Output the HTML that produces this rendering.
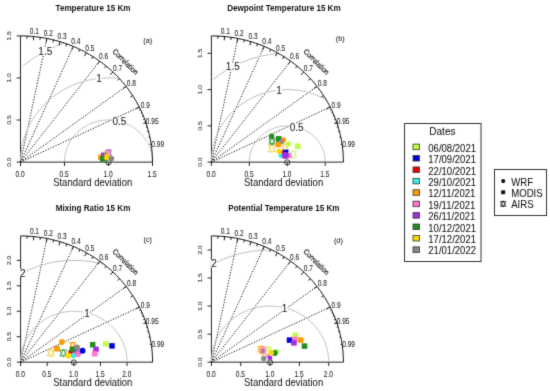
<!DOCTYPE html><html><head><meta charset="utf-8"><style>html,body{margin:0;padding:0;background:#fff;}svg{display:block}</style></head><body>
<svg width="550" height="391" viewBox="0 0 550 391" font-family='"Liberation Sans", sans-serif'>
<defs><filter id="bl" x="0" y="0" width="550" height="391" filterUnits="userSpaceOnUse" color-interpolation-filters="sRGB"><feConvolveMatrix order="3" kernelMatrix="0.0144 0.0912 0.0144 0.0912 0.5776 0.0912 0.0144 0.0912 0.0144" divisor="1" edgeMode="duplicate" preserveAlpha="true"/></filter></defs><g filter="url(#bl)">
<rect width="550" height="391" fill="#fff"/>
<text transform="translate(93.00,11.10) scale(1,1.17)" font-size="8.1" text-anchor="middle" font-weight="bold" fill="#111">Temperature 15 Km</text>
<line x1="20.50" y1="162.10" x2="46.90" y2="38.45" stroke="#111" stroke-width="1" stroke-dasharray="1.2 1.55"/>
<line x1="20.50" y1="162.10" x2="73.30" y2="46.44" stroke="#111" stroke-width="1" stroke-dasharray="1.2 1.55"/>
<line x1="20.50" y1="162.10" x2="99.70" y2="61.14" stroke="#111" stroke-width="1" stroke-dasharray="1.2 1.55"/>
<line x1="20.50" y1="162.10" x2="126.10" y2="86.38" stroke="#111" stroke-width="1" stroke-dasharray="1.2 1.55"/>
<line x1="20.50" y1="162.10" x2="139.30" y2="107.09" stroke="#111" stroke-width="1" stroke-dasharray="1.2 1.55"/>
<path d="M20.50,35.90 L20.50,162.10 L152.50,162.10" fill="none" stroke="#222" stroke-width="1"/>
<line x1="20.50" y1="162.10" x2="20.50" y2="166.00" stroke="#222" stroke-width="1"/>
<line x1="20.50" y1="162.10" x2="16.60" y2="162.10" stroke="#222" stroke-width="1"/>
<text transform="translate(20.20,177.00) scale(1,1.3)" font-size="6.6" text-anchor="middle" fill="#1a1a1a" stroke="#1a1a1a" stroke-width="0.05">0.0</text>
<text transform="translate(11.20,162.10) rotate(-90) scale(1,0.9)" font-size="6.6" text-anchor="middle" fill="#1a1a1a" stroke="#1a1a1a" stroke-width="0.05">0.0</text>
<line x1="64.50" y1="162.10" x2="64.50" y2="166.00" stroke="#222" stroke-width="1"/>
<line x1="20.50" y1="120.03" x2="16.60" y2="120.03" stroke="#222" stroke-width="1"/>
<text transform="translate(64.20,177.00) scale(1,1.3)" font-size="6.6" text-anchor="middle" fill="#1a1a1a" stroke="#1a1a1a" stroke-width="0.05">0.5</text>
<text transform="translate(11.20,120.03) rotate(-90) scale(1,0.9)" font-size="6.6" text-anchor="middle" fill="#1a1a1a" stroke="#1a1a1a" stroke-width="0.05">0.5</text>
<line x1="108.50" y1="162.10" x2="108.50" y2="166.00" stroke="#222" stroke-width="1"/>
<line x1="20.50" y1="77.97" x2="16.60" y2="77.97" stroke="#222" stroke-width="1"/>
<text transform="translate(108.20,177.00) scale(1,1.3)" font-size="6.6" text-anchor="middle" fill="#1a1a1a" stroke="#1a1a1a" stroke-width="0.05">1.0</text>
<text transform="translate(11.20,77.97) rotate(-90) scale(1,0.9)" font-size="6.6" text-anchor="middle" fill="#1a1a1a" stroke="#1a1a1a" stroke-width="0.05">1.0</text>
<line x1="152.50" y1="162.10" x2="152.50" y2="166.00" stroke="#222" stroke-width="1"/>
<line x1="20.50" y1="35.90" x2="16.60" y2="35.90" stroke="#222" stroke-width="1"/>
<text transform="translate(152.20,177.00) scale(1,1.3)" font-size="6.6" text-anchor="middle" fill="#1a1a1a" stroke="#1a1a1a" stroke-width="0.05">1.5</text>
<text transform="translate(11.20,35.90) rotate(-90) scale(1,0.9)" font-size="6.6" text-anchor="middle" fill="#1a1a1a" stroke="#1a1a1a" stroke-width="0.05">1.5</text>
<path d="M152.50,162.10 L152.48,160.84 L152.42,159.58 L152.32,158.32 L152.18,157.06 L152.01,155.81 L151.79,154.57 L151.53,153.33 L151.24,152.10 L150.91,150.88 L150.53,149.67 L150.13,148.47 L149.68,147.28 L149.20,146.11 L148.68,144.95 L148.12,143.80 L147.53,142.67 L146.90,141.56 L146.24,140.47 L145.54,139.40 L144.81,138.35 L144.05,137.32 L143.26,136.31 L142.43,135.32 L141.58,134.36 L140.69,133.43 L139.78,132.52 L138.84,131.63 L137.87,130.78 L136.87,129.95 L135.85,129.15 L134.80,128.38 L133.73,127.64 L132.64,126.93 L131.53,126.25 L130.39,125.61 L129.24,125.00 L128.07,124.42 L126.87,123.88 L125.67,123.37 L124.44,122.89 L123.21,122.45 L121.96,122.05 L120.69,121.68 L119.42,121.35 L118.14,121.05 L116.84,120.80 L115.54,120.58 L114.24,120.39 L112.93,120.25 L111.61,120.14 L110.29,120.07 L108.98,120.04 L107.66,120.04 L106.34,120.08 L105.02,120.17 L103.70,120.28 L102.39,120.44 L101.09,120.63 L99.79,120.87 L98.50,121.13 L97.22,121.44 L95.95,121.78 L94.69,122.16 L93.45,122.57 L92.21,123.02 L90.99,123.51 L89.79,124.03 L88.60,124.58 L87.44,125.17 L86.29,125.79 L85.16,126.44 L84.05,127.13 L82.96,127.84 L81.90,128.59 L80.86,129.37 L79.85,130.18 L78.86,131.01 L77.90,131.88 L76.96,132.77 L76.05,133.69 L75.18,134.63 L74.33,135.60 L73.51,136.59 L72.73,137.60 L71.98,138.64 L71.26,139.70 L70.57,140.78 L69.92,141.87 L69.30,142.99 L68.72,144.12 L68.17,145.27 L67.66,146.43 L67.19,147.61 L66.76,148.80 L66.36,150.01 L66.00,151.22 L65.67,152.44 L65.39,153.68 L65.15,154.92 L64.94,156.16 L64.77,157.42 L64.65,158.67 L64.56,159.93 L64.51,161.19" fill="none" stroke="#BEBEBE" stroke-width="1"/>
<path d="M117.36,78.39 L114.72,78.18 L112.09,78.04 L109.45,77.97 L106.81,77.98 L104.17,78.07 L101.54,78.23 L98.91,78.47 L96.29,78.78 L93.68,79.17 L91.09,79.63 L88.51,80.17 L85.94,80.78 L83.40,81.46 L80.88,82.22 L78.39,83.04 L75.92,83.94 L73.49,84.91 L71.08,85.95 L68.71,87.06 L66.37,88.23 L64.07,89.48 L61.82,90.78 L59.60,92.15 L57.43,93.59 L55.30,95.08 L53.22,96.64 L51.19,98.25 L49.21,99.93 L47.29,101.65 L45.42,103.44 L43.61,105.27 L41.86,107.16 L40.16,109.09 L38.53,111.08 L36.96,113.11 L35.46,115.18 L34.02,117.30 L32.64,119.45 L31.34,121.65 L30.11,123.88 L28.94,126.14 L27.85,128.44 L26.83,130.77 L25.88,133.13 L25.01,135.51 L24.21,137.91 L23.49,140.34 L22.85,142.79 L22.28,145.25 L21.79,147.73 L21.38,150.23 L21.05,152.73 L20.79,155.24 L20.62,157.76 L20.52,160.28" fill="none" stroke="#BEBEBE" stroke-width="1"/>
<path d="M63.34,43.52 L59.64,44.87 L55.98,46.32 L52.37,47.88 L48.81,49.54 L45.31,51.30 L41.86,53.16 L38.47,55.12 L35.15,57.18 L31.89,59.33 L28.70,61.57 L25.58,63.91 L22.54,66.33" fill="none" stroke="#BEBEBE" stroke-width="1"/>
<rect x="112.12" y="117.45" width="14.60" height="7.8" fill="#fff"/>
<text transform="translate(119.42,125.05) scale(1,1.05)" font-size="10" text-anchor="middle" fill="#1a1a1a" stroke="#1a1a1a" stroke-width="0.05">0.5</text>
<rect x="95.81" y="74.57" width="6.20" height="7.8" fill="#fff"/>
<text transform="translate(98.91,82.17) scale(1,1.05)" font-size="10" text-anchor="middle" fill="#1a1a1a" stroke="#1a1a1a" stroke-width="0.05">1</text>
<rect x="38.01" y="47.40" width="14.60" height="7.8" fill="#fff"/>
<text transform="translate(45.31,55.00) scale(1,1.05)" font-size="10" text-anchor="middle" fill="#1a1a1a" stroke="#1a1a1a" stroke-width="0.05">1.5</text>
<path d="M152.50,162.10 L152.45,158.80 L152.32,155.50 L152.09,152.20 L151.78,148.91 L151.37,145.63 L150.87,142.36 L150.29,139.10 L149.62,135.86 L148.85,132.64 L148.00,129.44 L147.06,126.26 L146.04,123.10 L144.93,119.97 L143.73,116.87 L142.45,113.81 L141.09,110.77 L139.64,107.77 L138.11,104.81 L136.50,101.88 L134.82,99.00 L133.05,96.16 L131.20,93.37 L129.28,90.62 L127.29,87.92 L125.22,85.27 L123.08,82.68 L120.87,80.14 L118.60,77.66 L116.25,75.23 L113.84,72.86 L111.36,70.56 L108.83,68.32 L106.23,66.14 L103.57,64.02 L100.86,61.98 L98.09,60.00 L95.27,58.10 L92.39,56.26 L89.47,54.50 L86.50,52.81 L83.48,51.19 L80.43,49.65 L77.33,48.19 L74.19,46.81 L71.01,45.51 L67.80,44.28 L64.56,43.14 L61.29,42.08 L57.99,41.10 L54.66,40.20 L51.31,39.39 L47.94,38.66 L44.56,38.01 L41.15,37.45 L37.73,36.98 L34.30,36.59 L30.86,36.29 L27.41,36.07 L23.96,35.94 L20.50,35.90" fill="none" stroke="#111" stroke-width="1"/>
<line x1="33.70" y1="36.53" x2="33.30" y2="40.30" stroke="#111" stroke-width="1"/>
<line x1="46.90" y1="38.45" x2="46.11" y2="42.16" stroke="#111" stroke-width="1"/>
<line x1="60.10" y1="41.71" x2="58.91" y2="45.32" stroke="#111" stroke-width="1"/>
<line x1="73.30" y1="46.44" x2="71.72" y2="49.91" stroke="#111" stroke-width="1"/>
<line x1="86.50" y1="52.81" x2="84.52" y2="56.09" stroke="#111" stroke-width="1"/>
<line x1="99.70" y1="61.14" x2="97.32" y2="64.17" stroke="#111" stroke-width="1"/>
<line x1="112.90" y1="71.98" x2="110.13" y2="74.68" stroke="#111" stroke-width="1"/>
<line x1="126.10" y1="86.38" x2="122.93" y2="88.65" stroke="#111" stroke-width="1"/>
<line x1="139.30" y1="107.09" x2="135.74" y2="108.74" stroke="#111" stroke-width="1"/>
<line x1="27.10" y1="36.06" x2="26.97" y2="38.58" stroke="#111" stroke-width="1"/>
<line x1="40.30" y1="37.33" x2="39.90" y2="39.82" stroke="#111" stroke-width="1"/>
<line x1="53.50" y1="39.91" x2="52.84" y2="42.35" stroke="#111" stroke-width="1"/>
<line x1="66.70" y1="43.88" x2="65.78" y2="46.25" stroke="#111" stroke-width="1"/>
<line x1="79.90" y1="49.40" x2="78.71" y2="51.65" stroke="#111" stroke-width="1"/>
<line x1="93.10" y1="56.70" x2="91.65" y2="58.81" stroke="#111" stroke-width="1"/>
<line x1="106.30" y1="66.20" x2="104.58" y2="68.11" stroke="#111" stroke-width="1"/>
<line x1="119.50" y1="78.63" x2="117.52" y2="80.30" stroke="#111" stroke-width="1"/>
<line x1="132.70" y1="95.62" x2="130.46" y2="96.95" stroke="#111" stroke-width="1"/>
<line x1="145.90" y1="122.69" x2="143.39" y2="123.48" stroke="#111" stroke-width="1"/>
<line x1="140.62" y1="109.78" x2="139.42" y2="110.30" stroke="#111" stroke-width="1"/>
<line x1="141.94" y1="112.64" x2="140.73" y2="113.13" stroke="#111" stroke-width="1"/>
<line x1="143.26" y1="115.71" x2="142.03" y2="116.18" stroke="#111" stroke-width="1"/>
<line x1="144.58" y1="119.04" x2="143.34" y2="119.47" stroke="#111" stroke-width="1"/>
<line x1="145.90" y1="122.69" x2="144.65" y2="123.09" stroke="#111" stroke-width="1"/>
<line x1="147.22" y1="126.76" x2="145.95" y2="127.12" stroke="#111" stroke-width="1"/>
<line x1="148.54" y1="131.42" x2="147.26" y2="131.73" stroke="#111" stroke-width="1"/>
<line x1="149.86" y1="136.99" x2="148.57" y2="137.24" stroke="#111" stroke-width="1"/>
<line x1="151.18" y1="144.30" x2="149.87" y2="144.48" stroke="#111" stroke-width="1"/>
<text transform="translate(34.36,33.65) scale(1,1.3)" font-size="6.6" text-anchor="middle" fill="#1a1a1a" stroke="#1a1a1a" stroke-width="0.05">0.1</text>
<text transform="translate(48.22,35.67) scale(1,1.3)" font-size="6.6" text-anchor="middle" fill="#1a1a1a" stroke="#1a1a1a" stroke-width="0.05">0.2</text>
<text transform="translate(62.08,39.09) scale(1,1.3)" font-size="6.6" text-anchor="middle" fill="#1a1a1a" stroke="#1a1a1a" stroke-width="0.05">0.3</text>
<text transform="translate(75.94,44.05) scale(1,1.3)" font-size="6.6" text-anchor="middle" fill="#1a1a1a" stroke="#1a1a1a" stroke-width="0.05">0.4</text>
<text transform="translate(89.80,50.74) scale(1,1.3)" font-size="6.6" text-anchor="middle" fill="#1a1a1a" stroke="#1a1a1a" stroke-width="0.05">0.5</text>
<text transform="translate(103.66,59.49) scale(1,1.3)" font-size="6.6" text-anchor="middle" fill="#1a1a1a" stroke="#1a1a1a" stroke-width="0.05">0.6</text>
<text transform="translate(117.52,70.87) scale(1,1.3)" font-size="6.6" text-anchor="middle" fill="#1a1a1a" stroke="#1a1a1a" stroke-width="0.05">0.7</text>
<text transform="translate(131.38,85.99) scale(1,1.3)" font-size="6.6" text-anchor="middle" fill="#1a1a1a" stroke="#1a1a1a" stroke-width="0.05">0.8</text>
<text transform="translate(145.24,107.74) scale(1,1.3)" font-size="6.6" text-anchor="middle" fill="#1a1a1a" stroke="#1a1a1a" stroke-width="0.05">0.9</text>
<text transform="translate(152.17,124.12) scale(1,1.3)" font-size="6.6" text-anchor="middle" fill="#1a1a1a" stroke="#1a1a1a" stroke-width="0.05">0.95</text>
<text transform="translate(157.71,146.81) scale(1,1.3)" font-size="6.6" text-anchor="middle" fill="#1a1a1a" stroke="#1a1a1a" stroke-width="0.05">0.99</text>
<text transform="translate(126.10,61.14) rotate(45) scale(1,1.12)" x="0" y="3.1" font-size="6.75" text-anchor="middle" fill="#111" stroke="#111" stroke-width="0.15">Correlation</text>
<text transform="translate(147.80,42.50) scale(1,0.92)" font-size="7.3" text-anchor="middle" fill="#1a1a1a" stroke="#1a1a1a" stroke-width="0.05">(a)</text>
<text transform="translate(92.70,186.00) scale(1,1.17)" font-size="9.5" text-anchor="middle" fill="#1a1a1a" stroke="#1a1a1a" stroke-width="0.05">Standard deviation</text>
<circle cx="108.50" cy="162.40" r="2.6" fill="none" stroke="#222" stroke-width="0.9"/>
<polygon points="108.60,149.18 111.56,155.17 105.64,155.17" fill="none" stroke="#9933DD" stroke-width="0.8"/><polygon points="108.60,156.02 111.56,150.03 105.64,150.03" fill="none" stroke="#9933DD" stroke-width="0.8"/>
<polygon points="107.40,150.45 109.96,155.62 104.84,155.62" fill="none" stroke="#F0A070" stroke-width="0.7"/><polygon points="107.40,156.35 109.96,151.18 104.84,151.18" fill="none" stroke="#F0A070" stroke-width="0.7"/>
<circle cx="103.50" cy="154.00" r="2.5" fill="#BFFF40"/>
<rect x="98.10" y="154.60" width="5.4" height="5.4" fill="#FF9900"/>
<rect x="100.90" y="152.70" width="5.2" height="5.2" fill="#9933DD"/>
<rect x="100.00" y="156.20" width="5.6" height="5.6" fill="#228B22"/>
<polygon points="106.80,153.49 109.49,158.93 104.11,158.93" fill="none" stroke="#FFD700" stroke-width="0.8"/><polygon points="106.80,159.71 109.49,154.27 104.11,154.27" fill="none" stroke="#FFD700" stroke-width="0.8"/>
<circle cx="106.90" cy="157.60" r="2.5" fill="#FFD700"/>
<circle cx="111.40" cy="158.50" r="2.8" fill="#888888"/>
<text transform="translate(283.90,11.10) scale(1,1.17)" font-size="8.1" text-anchor="middle" font-weight="bold" fill="#111">Dewpoint Temperature 15 Km</text>
<line x1="211.40" y1="162.10" x2="237.80" y2="38.45" stroke="#111" stroke-width="1" stroke-dasharray="1.2 1.55"/>
<line x1="211.40" y1="162.10" x2="264.20" y2="46.44" stroke="#111" stroke-width="1" stroke-dasharray="1.2 1.55"/>
<line x1="211.40" y1="162.10" x2="290.60" y2="61.14" stroke="#111" stroke-width="1" stroke-dasharray="1.2 1.55"/>
<line x1="211.40" y1="162.10" x2="317.00" y2="86.38" stroke="#111" stroke-width="1" stroke-dasharray="1.2 1.55"/>
<line x1="211.40" y1="162.10" x2="330.20" y2="107.09" stroke="#111" stroke-width="1" stroke-dasharray="1.2 1.55"/>
<path d="M211.40,35.90 L211.40,162.10 L343.40,162.10" fill="none" stroke="#222" stroke-width="1"/>
<line x1="211.40" y1="162.10" x2="211.40" y2="166.00" stroke="#222" stroke-width="1"/>
<line x1="211.40" y1="162.10" x2="207.50" y2="162.10" stroke="#222" stroke-width="1"/>
<text transform="translate(211.10,177.00) scale(1,1.3)" font-size="6.6" text-anchor="middle" fill="#1a1a1a" stroke="#1a1a1a" stroke-width="0.05">0.0</text>
<text transform="translate(202.10,162.10) rotate(-90) scale(1,0.9)" font-size="6.6" text-anchor="middle" fill="#1a1a1a" stroke="#1a1a1a" stroke-width="0.05">0.0</text>
<line x1="249.33" y1="162.10" x2="249.33" y2="166.00" stroke="#222" stroke-width="1"/>
<line x1="211.40" y1="125.84" x2="207.50" y2="125.84" stroke="#222" stroke-width="1"/>
<text transform="translate(249.03,177.00) scale(1,1.3)" font-size="6.6" text-anchor="middle" fill="#1a1a1a" stroke="#1a1a1a" stroke-width="0.05">0.5</text>
<text transform="translate(202.10,125.84) rotate(-90) scale(1,0.9)" font-size="6.6" text-anchor="middle" fill="#1a1a1a" stroke="#1a1a1a" stroke-width="0.05">0.5</text>
<line x1="287.26" y1="162.10" x2="287.26" y2="166.00" stroke="#222" stroke-width="1"/>
<line x1="211.40" y1="89.57" x2="207.50" y2="89.57" stroke="#222" stroke-width="1"/>
<text transform="translate(286.96,177.00) scale(1,1.3)" font-size="6.6" text-anchor="middle" fill="#1a1a1a" stroke="#1a1a1a" stroke-width="0.05">1.0</text>
<text transform="translate(202.10,89.57) rotate(-90) scale(1,0.9)" font-size="6.6" text-anchor="middle" fill="#1a1a1a" stroke="#1a1a1a" stroke-width="0.05">1.0</text>
<line x1="325.19" y1="162.10" x2="325.19" y2="166.00" stroke="#222" stroke-width="1"/>
<line x1="211.40" y1="53.31" x2="207.50" y2="53.31" stroke="#222" stroke-width="1"/>
<text transform="translate(324.89,177.00) scale(1,1.3)" font-size="6.6" text-anchor="middle" fill="#1a1a1a" stroke="#1a1a1a" stroke-width="0.05">1.5</text>
<text transform="translate(202.10,53.31) rotate(-90) scale(1,0.9)" font-size="6.6" text-anchor="middle" fill="#1a1a1a" stroke="#1a1a1a" stroke-width="0.05">1.5</text>
<path d="M325.19,162.10 L325.18,161.01 L325.12,159.93 L325.04,158.84 L324.92,157.76 L324.77,156.68 L324.58,155.61 L324.36,154.54 L324.11,153.48 L323.82,152.43 L323.50,151.38 L323.15,150.35 L322.76,149.32 L322.34,148.31 L321.90,147.31 L321.42,146.33 L320.91,145.35 L320.37,144.40 L319.80,143.46 L319.20,142.53 L318.57,141.62 L317.91,140.74 L317.23,139.87 L316.52,139.02 L315.78,138.19 L315.02,137.38 L314.23,136.60 L313.42,135.83 L312.58,135.10 L311.72,134.38 L310.84,133.69 L309.94,133.03 L309.02,132.39 L308.07,131.78 L307.11,131.20 L306.14,130.64 L305.14,130.12 L304.13,129.62 L303.10,129.15 L302.06,128.71 L301.01,128.30 L299.94,127.92 L298.86,127.57 L297.77,127.26 L296.68,126.97 L295.57,126.72 L294.46,126.49 L293.33,126.30 L292.21,126.15 L291.08,126.02 L289.95,125.93 L288.81,125.87 L287.67,125.84 L286.53,125.84 L285.40,125.88 L284.26,125.95 L283.13,126.05 L282.00,126.19 L280.87,126.35 L279.76,126.55 L278.64,126.78 L277.54,127.05 L276.44,127.34 L275.36,127.67 L274.28,128.02 L273.22,128.41 L272.17,128.83 L271.13,129.28 L270.11,129.75 L269.10,130.26 L268.11,130.80 L267.14,131.36 L266.18,131.95 L265.25,132.57 L264.33,133.21 L263.43,133.88 L262.56,134.58 L261.71,135.30 L260.88,136.05 L260.07,136.81 L259.29,137.60 L258.54,138.42 L257.81,139.25 L257.10,140.11 L256.43,140.98 L255.78,141.88 L255.16,142.79 L254.57,143.72 L254.00,144.66 L253.47,145.62 L252.97,146.60 L252.50,147.59 L252.06,148.60 L251.65,149.61 L251.28,150.64 L250.93,151.67 L250.62,152.72 L250.34,153.78 L250.10,154.84 L249.89,155.91 L249.71,156.98 L249.57,158.06 L249.46,159.14 L249.38,160.23 L249.34,161.32" fill="none" stroke="#BEBEBE" stroke-width="1"/>
<path d="M325.01,99.19 L323.02,98.13 L321.00,97.14 L318.94,96.20 L316.86,95.32 L314.75,94.50 L312.62,93.74 L310.46,93.05 L308.29,92.41 L306.09,91.84 L303.88,91.33 L301.65,90.89 L299.41,90.51 L297.16,90.19 L294.90,89.94 L292.63,89.75 L290.36,89.63 L288.08,89.58 L285.81,89.58 L283.53,89.66 L281.26,89.80 L278.99,90.00 L276.74,90.27 L274.49,90.61 L272.25,91.01 L270.03,91.47 L267.82,91.99 L265.63,92.58 L263.46,93.24 L261.31,93.95 L259.18,94.72 L257.08,95.56 L255.00,96.45 L252.96,97.41 L250.94,98.42 L248.96,99.49 L247.02,100.62 L245.11,101.80 L243.23,103.04 L241.40,104.33 L239.61,105.67 L237.86,107.06 L236.15,108.50 L234.50,109.99 L232.88,111.53 L231.32,113.11 L229.81,114.74 L228.35,116.40 L226.94,118.11 L225.59,119.86 L224.29,121.65 L223.05,123.48 L221.87,125.33 L220.74,127.23 L219.68,129.15 L218.68,131.10 L217.74,133.08 L216.86,135.09 L216.04,137.12 L215.29,139.18 L214.60,141.25 L213.98,143.34 L213.43,145.45 L212.94,147.58 L212.51,149.72 L212.16,151.86 L211.87,154.02 L211.65,156.19 L211.50,158.36 L211.42,160.53" fill="none" stroke="#BEBEBE" stroke-width="1"/>
<path d="M278.26,53.65 L274.86,53.95 L271.47,54.36 L268.10,54.86 L264.74,55.46 L261.41,56.15 L258.10,56.94 L254.81,57.82 L251.55,58.80 L248.33,59.87 L245.14,61.04 L241.99,62.29 L238.88,63.63 L235.81,65.06 L232.79,66.58 L229.81,68.19 L226.89,69.88 L224.03,71.65 L221.22,73.51 L218.47,75.44 L215.78,77.45 L213.16,79.54" fill="none" stroke="#BEBEBE" stroke-width="1"/>
<rect x="289.38" y="123.07" width="14.60" height="7.8" fill="#fff"/>
<text transform="translate(296.68,130.67) scale(1,1.05)" font-size="10" text-anchor="middle" fill="#1a1a1a" stroke="#1a1a1a" stroke-width="0.05">0.5</text>
<rect x="275.89" y="86.10" width="6.20" height="7.8" fill="#fff"/>
<text transform="translate(278.99,93.70) scale(1,1.05)" font-size="10" text-anchor="middle" fill="#1a1a1a" stroke="#1a1a1a" stroke-width="0.05">1</text>
<rect x="225.49" y="62.68" width="14.60" height="7.8" fill="#fff"/>
<text transform="translate(232.79,70.28) scale(1,1.05)" font-size="10" text-anchor="middle" fill="#1a1a1a" stroke="#1a1a1a" stroke-width="0.05">1.5</text>
<path d="M343.40,162.10 L343.35,158.80 L343.22,155.50 L342.99,152.20 L342.68,148.91 L342.27,145.63 L341.77,142.36 L341.19,139.10 L340.52,135.86 L339.75,132.64 L338.90,129.44 L337.96,126.26 L336.94,123.10 L335.83,119.97 L334.63,116.87 L333.35,113.81 L331.99,110.77 L330.54,107.77 L329.01,104.81 L327.40,101.88 L325.72,99.00 L323.95,96.16 L322.10,93.37 L320.18,90.62 L318.19,87.92 L316.12,85.27 L313.98,82.68 L311.77,80.14 L309.50,77.66 L307.15,75.23 L304.74,72.86 L302.26,70.56 L299.73,68.32 L297.13,66.14 L294.47,64.02 L291.76,61.98 L288.99,60.00 L286.17,58.10 L283.29,56.26 L280.37,54.50 L277.40,52.81 L274.38,51.19 L271.33,49.65 L268.23,48.19 L265.09,46.81 L261.91,45.51 L258.70,44.28 L255.46,43.14 L252.19,42.08 L248.89,41.10 L245.56,40.20 L242.21,39.39 L238.84,38.66 L235.46,38.01 L232.05,37.45 L228.63,36.98 L225.20,36.59 L221.76,36.29 L218.31,36.07 L214.86,35.94 L211.40,35.90" fill="none" stroke="#111" stroke-width="1"/>
<line x1="224.60" y1="36.53" x2="224.20" y2="40.30" stroke="#111" stroke-width="1"/>
<line x1="237.80" y1="38.45" x2="237.01" y2="42.16" stroke="#111" stroke-width="1"/>
<line x1="251.00" y1="41.71" x2="249.81" y2="45.32" stroke="#111" stroke-width="1"/>
<line x1="264.20" y1="46.44" x2="262.62" y2="49.91" stroke="#111" stroke-width="1"/>
<line x1="277.40" y1="52.81" x2="275.42" y2="56.09" stroke="#111" stroke-width="1"/>
<line x1="290.60" y1="61.14" x2="288.22" y2="64.17" stroke="#111" stroke-width="1"/>
<line x1="303.80" y1="71.98" x2="301.03" y2="74.68" stroke="#111" stroke-width="1"/>
<line x1="317.00" y1="86.38" x2="313.83" y2="88.65" stroke="#111" stroke-width="1"/>
<line x1="330.20" y1="107.09" x2="326.64" y2="108.74" stroke="#111" stroke-width="1"/>
<line x1="218.00" y1="36.06" x2="217.87" y2="38.58" stroke="#111" stroke-width="1"/>
<line x1="231.20" y1="37.33" x2="230.80" y2="39.82" stroke="#111" stroke-width="1"/>
<line x1="244.40" y1="39.91" x2="243.74" y2="42.35" stroke="#111" stroke-width="1"/>
<line x1="257.60" y1="43.88" x2="256.68" y2="46.25" stroke="#111" stroke-width="1"/>
<line x1="270.80" y1="49.40" x2="269.61" y2="51.65" stroke="#111" stroke-width="1"/>
<line x1="284.00" y1="56.70" x2="282.55" y2="58.81" stroke="#111" stroke-width="1"/>
<line x1="297.20" y1="66.20" x2="295.48" y2="68.11" stroke="#111" stroke-width="1"/>
<line x1="310.40" y1="78.63" x2="308.42" y2="80.30" stroke="#111" stroke-width="1"/>
<line x1="323.60" y1="95.62" x2="321.36" y2="96.95" stroke="#111" stroke-width="1"/>
<line x1="336.80" y1="122.69" x2="334.29" y2="123.48" stroke="#111" stroke-width="1"/>
<line x1="331.52" y1="109.78" x2="330.32" y2="110.30" stroke="#111" stroke-width="1"/>
<line x1="332.84" y1="112.64" x2="331.63" y2="113.13" stroke="#111" stroke-width="1"/>
<line x1="334.16" y1="115.71" x2="332.93" y2="116.18" stroke="#111" stroke-width="1"/>
<line x1="335.48" y1="119.04" x2="334.24" y2="119.47" stroke="#111" stroke-width="1"/>
<line x1="336.80" y1="122.69" x2="335.55" y2="123.09" stroke="#111" stroke-width="1"/>
<line x1="338.12" y1="126.76" x2="336.85" y2="127.12" stroke="#111" stroke-width="1"/>
<line x1="339.44" y1="131.42" x2="338.16" y2="131.73" stroke="#111" stroke-width="1"/>
<line x1="340.76" y1="136.99" x2="339.47" y2="137.24" stroke="#111" stroke-width="1"/>
<line x1="342.08" y1="144.30" x2="340.77" y2="144.48" stroke="#111" stroke-width="1"/>
<text transform="translate(225.26,33.65) scale(1,1.3)" font-size="6.6" text-anchor="middle" fill="#1a1a1a" stroke="#1a1a1a" stroke-width="0.05">0.1</text>
<text transform="translate(239.12,35.67) scale(1,1.3)" font-size="6.6" text-anchor="middle" fill="#1a1a1a" stroke="#1a1a1a" stroke-width="0.05">0.2</text>
<text transform="translate(252.98,39.09) scale(1,1.3)" font-size="6.6" text-anchor="middle" fill="#1a1a1a" stroke="#1a1a1a" stroke-width="0.05">0.3</text>
<text transform="translate(266.84,44.05) scale(1,1.3)" font-size="6.6" text-anchor="middle" fill="#1a1a1a" stroke="#1a1a1a" stroke-width="0.05">0.4</text>
<text transform="translate(280.70,50.74) scale(1,1.3)" font-size="6.6" text-anchor="middle" fill="#1a1a1a" stroke="#1a1a1a" stroke-width="0.05">0.5</text>
<text transform="translate(294.56,59.49) scale(1,1.3)" font-size="6.6" text-anchor="middle" fill="#1a1a1a" stroke="#1a1a1a" stroke-width="0.05">0.6</text>
<text transform="translate(308.42,70.87) scale(1,1.3)" font-size="6.6" text-anchor="middle" fill="#1a1a1a" stroke="#1a1a1a" stroke-width="0.05">0.7</text>
<text transform="translate(322.28,85.99) scale(1,1.3)" font-size="6.6" text-anchor="middle" fill="#1a1a1a" stroke="#1a1a1a" stroke-width="0.05">0.8</text>
<text transform="translate(336.14,107.74) scale(1,1.3)" font-size="6.6" text-anchor="middle" fill="#1a1a1a" stroke="#1a1a1a" stroke-width="0.05">0.9</text>
<text transform="translate(343.07,124.12) scale(1,1.3)" font-size="6.6" text-anchor="middle" fill="#1a1a1a" stroke="#1a1a1a" stroke-width="0.05">0.95</text>
<text transform="translate(348.61,146.81) scale(1,1.3)" font-size="6.6" text-anchor="middle" fill="#1a1a1a" stroke="#1a1a1a" stroke-width="0.05">0.99</text>
<text transform="translate(317.00,61.14) rotate(45) scale(1,1.12)" x="0" y="3.1" font-size="6.75" text-anchor="middle" fill="#111" stroke="#111" stroke-width="0.15">Correlation</text>
<text transform="translate(340.30,41.15) scale(1,0.92)" font-size="7.3" text-anchor="middle" fill="#1a1a1a" stroke="#1a1a1a" stroke-width="0.05">(b)</text>
<text transform="translate(283.60,186.00) scale(1,1.17)" font-size="9.5" text-anchor="middle" fill="#1a1a1a" stroke="#1a1a1a" stroke-width="0.05">Standard deviation</text>
<circle cx="287.26" cy="162.40" r="2.6" fill="none" stroke="#222" stroke-width="0.9"/>
<polygon points="272.00,144.05 275.77,151.67 268.23,151.67" fill="none" stroke="#F2D35A" stroke-width="0.9"/><polygon points="272.00,152.75 275.77,145.13 268.23,145.13" fill="none" stroke="#F2D35A" stroke-width="0.9"/>
<polygon points="285.00,143.36 288.50,150.43 281.50,150.43" fill="none" stroke="#F5C86A" stroke-width="0.9"/><polygon points="285.00,151.44 288.50,144.37 281.50,144.37" fill="none" stroke="#F5C86A" stroke-width="0.9"/>
<polygon points="293.00,150.30 296.64,157.65 289.36,157.65" fill="none" stroke="#D8F08A" stroke-width="0.9"/><polygon points="293.00,158.70 296.64,151.35 289.36,151.35" fill="none" stroke="#D8F08A" stroke-width="0.9"/>
<circle cx="271.70" cy="136.20" r="2.6" fill="#228B22"/>
<polygon points="272.00,137.72 275.10,143.98 268.90,143.98" fill="none" stroke="#228B22" stroke-width="0.85"/><polygon points="272.00,144.88 275.10,138.62 268.90,138.62" fill="none" stroke="#228B22" stroke-width="0.85"/>
<rect x="275.80" y="136.10" width="5.8" height="5.8" fill="#228B22"/>
<circle cx="283.50" cy="140.00" r="2.7" fill="#FF9900"/>
<circle cx="281.20" cy="141.80" r="2.6" fill="#888888"/>
<rect x="275.70" y="142.10" width="5.2" height="5.2" fill="#FF9900"/>
<circle cx="288.50" cy="144.00" r="2.8" fill="#BFFF40"/>
<rect x="294.95" y="143.45" width="5.5" height="5.5" fill="#BFFF40"/>
<circle cx="279.20" cy="151.50" r="2.7" fill="#FFD700"/>
<rect x="282.60" y="149.70" width="5.8" height="5.8" fill="#0000DD"/>
<circle cx="283.00" cy="152.30" r="1.5" fill="#EE0000"/>
<circle cx="280.80" cy="155.80" r="2.4" fill="#33EEEE"/>
<rect x="286.40" y="153.10" width="5.2" height="5.2" fill="#FF77CC"/>
<circle cx="285.30" cy="155.40" r="3.5" fill="#9933DD"/>
<text transform="translate(93.10,211.15) scale(1,1.17)" font-size="8.1" text-anchor="middle" font-weight="bold" fill="#111">Mixing Ratio 15 Km</text>
<line x1="20.60" y1="362.15" x2="47.00" y2="238.50" stroke="#111" stroke-width="1" stroke-dasharray="1.2 1.55"/>
<line x1="20.60" y1="362.15" x2="73.40" y2="246.49" stroke="#111" stroke-width="1" stroke-dasharray="1.2 1.55"/>
<line x1="20.60" y1="362.15" x2="99.80" y2="261.19" stroke="#111" stroke-width="1" stroke-dasharray="1.2 1.55"/>
<line x1="20.60" y1="362.15" x2="126.20" y2="286.43" stroke="#111" stroke-width="1" stroke-dasharray="1.2 1.55"/>
<line x1="20.60" y1="362.15" x2="139.40" y2="307.14" stroke="#111" stroke-width="1" stroke-dasharray="1.2 1.55"/>
<path d="M20.60,235.95 L20.60,362.15 L152.60,362.15" fill="none" stroke="#222" stroke-width="1"/>
<line x1="20.60" y1="362.15" x2="20.60" y2="366.05" stroke="#222" stroke-width="1"/>
<line x1="20.60" y1="362.15" x2="16.70" y2="362.15" stroke="#222" stroke-width="1"/>
<text transform="translate(20.30,377.05) scale(1,1.3)" font-size="6.6" text-anchor="middle" fill="#1a1a1a" stroke="#1a1a1a" stroke-width="0.05">0.0</text>
<text transform="translate(11.30,362.15) rotate(-90) scale(1,0.9)" font-size="6.6" text-anchor="middle" fill="#1a1a1a" stroke="#1a1a1a" stroke-width="0.05">0.0</text>
<line x1="47.21" y1="362.15" x2="47.21" y2="366.05" stroke="#222" stroke-width="1"/>
<line x1="20.60" y1="336.71" x2="16.70" y2="336.71" stroke="#222" stroke-width="1"/>
<text transform="translate(46.91,377.05) scale(1,1.3)" font-size="6.6" text-anchor="middle" fill="#1a1a1a" stroke="#1a1a1a" stroke-width="0.05">0.5</text>
<text transform="translate(11.30,336.71) rotate(-90) scale(1,0.9)" font-size="6.6" text-anchor="middle" fill="#1a1a1a" stroke="#1a1a1a" stroke-width="0.05">0.5</text>
<line x1="73.83" y1="362.15" x2="73.83" y2="366.05" stroke="#222" stroke-width="1"/>
<line x1="20.60" y1="311.26" x2="16.70" y2="311.26" stroke="#222" stroke-width="1"/>
<text transform="translate(73.53,377.05) scale(1,1.3)" font-size="6.6" text-anchor="middle" fill="#1a1a1a" stroke="#1a1a1a" stroke-width="0.05">1.0</text>
<text transform="translate(11.30,311.26) rotate(-90) scale(1,0.9)" font-size="6.6" text-anchor="middle" fill="#1a1a1a" stroke="#1a1a1a" stroke-width="0.05">1.0</text>
<line x1="100.44" y1="362.15" x2="100.44" y2="366.05" stroke="#222" stroke-width="1"/>
<line x1="20.60" y1="285.82" x2="16.70" y2="285.82" stroke="#222" stroke-width="1"/>
<text transform="translate(100.14,377.05) scale(1,1.3)" font-size="6.6" text-anchor="middle" fill="#1a1a1a" stroke="#1a1a1a" stroke-width="0.05">1.5</text>
<text transform="translate(11.30,285.82) rotate(-90) scale(1,0.9)" font-size="6.6" text-anchor="middle" fill="#1a1a1a" stroke="#1a1a1a" stroke-width="0.05">1.5</text>
<line x1="127.05" y1="362.15" x2="127.05" y2="366.05" stroke="#222" stroke-width="1"/>
<line x1="20.60" y1="260.38" x2="16.70" y2="260.38" stroke="#222" stroke-width="1"/>
<text transform="translate(126.75,377.05) scale(1,1.3)" font-size="6.6" text-anchor="middle" fill="#1a1a1a" stroke="#1a1a1a" stroke-width="0.05">2.0</text>
<text transform="translate(11.30,260.38) rotate(-90) scale(1,0.9)" font-size="6.6" text-anchor="middle" fill="#1a1a1a" stroke="#1a1a1a" stroke-width="0.05">2.0</text>
<path d="M127.05,362.15 L127.03,360.62 L126.96,359.10 L126.84,357.58 L126.67,356.06 L126.45,354.55 L126.19,353.04 L125.88,351.54 L125.53,350.05 L125.12,348.58 L124.67,347.11 L124.18,345.66 L123.64,344.22 L123.05,342.80 L122.43,341.40 L121.75,340.02 L121.04,338.65 L120.28,337.31 L119.48,335.99 L118.64,334.69 L117.75,333.42 L116.83,332.17 L115.87,330.95 L114.88,329.76 L113.84,328.60 L112.77,327.46 L111.66,326.36 L110.52,325.29 L109.35,324.26 L108.15,323.26 L106.91,322.29 L105.65,321.36 L104.35,320.46 L103.03,319.61 L101.68,318.79 L100.31,318.01 L98.91,317.27 L97.49,316.57 L96.05,315.91 L94.59,315.30 L93.11,314.72 L91.62,314.19 L90.10,313.70 L88.58,313.26 L87.04,312.85 L85.48,312.50 L83.92,312.19 L82.35,311.92 L80.77,311.70 L79.18,311.52 L77.59,311.39 L76.00,311.31 L74.40,311.27 L72.80,311.27 L71.21,311.32 L69.61,311.42 L68.02,311.57 L66.44,311.76 L64.86,311.99 L63.29,312.27 L61.73,312.59 L60.18,312.96 L58.65,313.38 L57.12,313.83 L55.61,314.33 L54.12,314.88 L52.65,315.46 L51.19,316.09 L49.76,316.76 L48.35,317.47 L46.95,318.22 L45.59,319.01 L44.25,319.84 L42.93,320.71 L41.65,321.62 L40.39,322.56 L39.16,323.53 L37.97,324.54 L36.80,325.59 L35.67,326.67 L34.58,327.78 L33.52,328.92 L32.49,330.09 L31.50,331.29 L30.56,332.52 L29.65,333.77 L28.78,335.05 L27.95,336.35 L27.16,337.68 L26.41,339.03 L25.71,340.40 L25.05,341.79 L24.43,343.20 L23.86,344.62 L23.33,346.07 L22.85,347.52 L22.41,348.99 L22.02,350.47 L21.68,351.96 L21.38,353.46 L21.13,354.97 L20.93,356.48 L20.78,358.00 L20.67,359.53 L20.61,361.05" fill="none" stroke="#BEBEBE" stroke-width="1"/>
<path d="M103.33,264.36 L100.24,263.56 L97.14,262.85 L94.01,262.22 L90.87,261.69 L87.71,261.25 L84.54,260.89 L81.36,260.63 L78.17,260.46 L74.98,260.38 L71.78,260.39 L68.59,260.50 L65.40,260.69 L62.22,260.98 L59.06,261.36 L55.90,261.83 L52.76,262.39 L49.64,263.04 L46.54,263.78 L43.47,264.60 L40.42,265.52 L37.40,266.52 L34.42,267.61 L31.47,268.78 L28.56,270.04 L25.69,271.37 L22.86,272.80" fill="none" stroke="#BEBEBE" stroke-width="1"/>
<rect x="83.94" y="308.95" width="6.20" height="7.8" fill="#fff"/>
<text transform="translate(87.04,316.55) scale(1,1.05)" font-size="10" text-anchor="middle" fill="#1a1a1a" stroke="#1a1a1a" stroke-width="0.05">1</text>
<rect x="19.76" y="268.90" width="6.20" height="7.8" fill="#fff"/>
<text transform="translate(22.86,276.50) scale(1,1.05)" font-size="10" text-anchor="middle" fill="#1a1a1a" stroke="#1a1a1a" stroke-width="0.05">2</text>
<path d="M152.60,362.15 L152.55,358.85 L152.42,355.55 L152.19,352.25 L151.88,348.96 L151.47,345.68 L150.97,342.41 L150.39,339.15 L149.72,335.91 L148.95,332.69 L148.10,329.49 L147.16,326.31 L146.14,323.15 L145.03,320.02 L143.83,316.92 L142.55,313.86 L141.19,310.82 L139.74,307.82 L138.21,304.86 L136.60,301.93 L134.92,299.05 L133.15,296.21 L131.30,293.42 L129.38,290.67 L127.39,287.97 L125.32,285.32 L123.18,282.73 L120.97,280.19 L118.70,277.71 L116.35,275.28 L113.94,272.91 L111.46,270.61 L108.93,268.37 L106.33,266.19 L103.67,264.07 L100.96,262.03 L98.19,260.05 L95.37,258.15 L92.49,256.31 L89.57,254.55 L86.60,252.86 L83.58,251.24 L80.53,249.70 L77.43,248.24 L74.29,246.86 L71.11,245.56 L67.90,244.33 L64.66,243.19 L61.39,242.13 L58.09,241.15 L54.76,240.25 L51.41,239.44 L48.04,238.71 L44.66,238.06 L41.25,237.50 L37.83,237.03 L34.40,236.64 L30.96,236.34 L27.51,236.12 L24.06,235.99 L20.60,235.95" fill="none" stroke="#111" stroke-width="1"/>
<line x1="33.80" y1="236.58" x2="33.40" y2="240.35" stroke="#111" stroke-width="1"/>
<line x1="47.00" y1="238.50" x2="46.21" y2="242.21" stroke="#111" stroke-width="1"/>
<line x1="60.20" y1="241.76" x2="59.01" y2="245.37" stroke="#111" stroke-width="1"/>
<line x1="73.40" y1="246.49" x2="71.82" y2="249.96" stroke="#111" stroke-width="1"/>
<line x1="86.60" y1="252.86" x2="84.62" y2="256.14" stroke="#111" stroke-width="1"/>
<line x1="99.80" y1="261.19" x2="97.42" y2="264.22" stroke="#111" stroke-width="1"/>
<line x1="113.00" y1="272.03" x2="110.23" y2="274.73" stroke="#111" stroke-width="1"/>
<line x1="126.20" y1="286.43" x2="123.03" y2="288.70" stroke="#111" stroke-width="1"/>
<line x1="139.40" y1="307.14" x2="135.84" y2="308.79" stroke="#111" stroke-width="1"/>
<line x1="27.20" y1="236.11" x2="27.07" y2="238.63" stroke="#111" stroke-width="1"/>
<line x1="40.40" y1="237.38" x2="40.00" y2="239.87" stroke="#111" stroke-width="1"/>
<line x1="53.60" y1="239.96" x2="52.94" y2="242.40" stroke="#111" stroke-width="1"/>
<line x1="66.80" y1="243.93" x2="65.88" y2="246.30" stroke="#111" stroke-width="1"/>
<line x1="80.00" y1="249.45" x2="78.81" y2="251.70" stroke="#111" stroke-width="1"/>
<line x1="93.20" y1="256.75" x2="91.75" y2="258.86" stroke="#111" stroke-width="1"/>
<line x1="106.40" y1="266.25" x2="104.68" y2="268.16" stroke="#111" stroke-width="1"/>
<line x1="119.60" y1="278.68" x2="117.62" y2="280.35" stroke="#111" stroke-width="1"/>
<line x1="132.80" y1="295.67" x2="130.56" y2="297.00" stroke="#111" stroke-width="1"/>
<line x1="146.00" y1="322.74" x2="143.49" y2="323.53" stroke="#111" stroke-width="1"/>
<line x1="140.72" y1="309.83" x2="139.52" y2="310.35" stroke="#111" stroke-width="1"/>
<line x1="142.04" y1="312.69" x2="140.83" y2="313.18" stroke="#111" stroke-width="1"/>
<line x1="143.36" y1="315.76" x2="142.13" y2="316.23" stroke="#111" stroke-width="1"/>
<line x1="144.68" y1="319.09" x2="143.44" y2="319.52" stroke="#111" stroke-width="1"/>
<line x1="146.00" y1="322.74" x2="144.75" y2="323.14" stroke="#111" stroke-width="1"/>
<line x1="147.32" y1="326.81" x2="146.05" y2="327.17" stroke="#111" stroke-width="1"/>
<line x1="148.64" y1="331.47" x2="147.36" y2="331.78" stroke="#111" stroke-width="1"/>
<line x1="149.96" y1="337.04" x2="148.67" y2="337.29" stroke="#111" stroke-width="1"/>
<line x1="151.28" y1="344.35" x2="149.97" y2="344.53" stroke="#111" stroke-width="1"/>
<text transform="translate(34.46,233.70) scale(1,1.3)" font-size="6.6" text-anchor="middle" fill="#1a1a1a" stroke="#1a1a1a" stroke-width="0.05">0.1</text>
<text transform="translate(48.32,235.72) scale(1,1.3)" font-size="6.6" text-anchor="middle" fill="#1a1a1a" stroke="#1a1a1a" stroke-width="0.05">0.2</text>
<text transform="translate(62.18,239.14) scale(1,1.3)" font-size="6.6" text-anchor="middle" fill="#1a1a1a" stroke="#1a1a1a" stroke-width="0.05">0.3</text>
<text transform="translate(76.04,244.10) scale(1,1.3)" font-size="6.6" text-anchor="middle" fill="#1a1a1a" stroke="#1a1a1a" stroke-width="0.05">0.4</text>
<text transform="translate(89.90,250.79) scale(1,1.3)" font-size="6.6" text-anchor="middle" fill="#1a1a1a" stroke="#1a1a1a" stroke-width="0.05">0.5</text>
<text transform="translate(103.76,259.54) scale(1,1.3)" font-size="6.6" text-anchor="middle" fill="#1a1a1a" stroke="#1a1a1a" stroke-width="0.05">0.6</text>
<text transform="translate(117.62,270.92) scale(1,1.3)" font-size="6.6" text-anchor="middle" fill="#1a1a1a" stroke="#1a1a1a" stroke-width="0.05">0.7</text>
<text transform="translate(131.48,286.04) scale(1,1.3)" font-size="6.6" text-anchor="middle" fill="#1a1a1a" stroke="#1a1a1a" stroke-width="0.05">0.8</text>
<text transform="translate(145.34,307.79) scale(1,1.3)" font-size="6.6" text-anchor="middle" fill="#1a1a1a" stroke="#1a1a1a" stroke-width="0.05">0.9</text>
<text transform="translate(152.27,324.17) scale(1,1.3)" font-size="6.6" text-anchor="middle" fill="#1a1a1a" stroke="#1a1a1a" stroke-width="0.05">0.95</text>
<text transform="translate(157.81,346.86) scale(1,1.3)" font-size="6.6" text-anchor="middle" fill="#1a1a1a" stroke="#1a1a1a" stroke-width="0.05">0.99</text>
<text transform="translate(126.20,261.19) rotate(45) scale(1,1.12)" x="0" y="3.1" font-size="6.75" text-anchor="middle" fill="#111" stroke="#111" stroke-width="0.15">Correlation</text>
<text transform="translate(147.80,241.85) scale(1,0.92)" font-size="7.3" text-anchor="middle" fill="#1a1a1a" stroke="#1a1a1a" stroke-width="0.05">(c)</text>
<text transform="translate(92.80,386.05) scale(1,1.17)" font-size="9.5" text-anchor="middle" fill="#1a1a1a" stroke="#1a1a1a" stroke-width="0.05">Standard deviation</text>
<circle cx="73.83" cy="362.45" r="2.6" fill="none" stroke="#222" stroke-width="0.9"/>
<polygon points="50.70,348.60 54.34,355.95 47.06,355.95" fill="none" stroke="#F2D040" stroke-width="0.85"/><polygon points="50.70,357.00 54.34,349.65 47.06,349.65" fill="none" stroke="#F2D040" stroke-width="0.85"/>
<polygon points="63.30,348.96 66.80,356.03 59.80,356.03" fill="none" stroke="#3C9A3C" stroke-width="0.85"/><polygon points="63.30,357.04 66.80,349.97 59.80,349.97" fill="none" stroke="#3C9A3C" stroke-width="0.85"/>
<polygon points="72.50,341.78 75.46,347.77 69.54,347.77" fill="none" stroke="#FF9900" stroke-width="0.9"/><polygon points="72.50,348.62 75.46,342.63 69.54,342.63" fill="none" stroke="#FF9900" stroke-width="0.9"/>
<circle cx="61.90" cy="342.00" r="2.9" fill="#FF9900"/>
<rect x="54.20" y="345.90" width="5.6" height="5.6" fill="#FF9900"/>
<circle cx="70.80" cy="352.00" r="2.6" fill="#EE0000"/>
<circle cx="76.50" cy="352.00" r="2.8" fill="#9933DD"/>
<circle cx="72.50" cy="349.20" r="2.9" fill="#228B22"/>
<circle cx="77.00" cy="347.40" r="3" fill="#888888"/>
<circle cx="68.50" cy="355.70" r="2.9" fill="#FFD700"/>
<circle cx="73.70" cy="355.50" r="2.7" fill="#33EEEE"/>
<circle cx="78.00" cy="354.00" r="3" fill="#FF77CC"/>
<circle cx="82.50" cy="350.70" r="3" fill="#0000DD"/>
<rect x="89.95" y="341.95" width="5.5" height="5.5" fill="#228B22"/>
<rect x="93.25" y="346.55" width="5.5" height="5.5" fill="#9933DD"/>
<rect x="92.05" y="350.95" width="5.5" height="5.5" fill="#FF77CC"/>
<rect x="103.05" y="341.15" width="5.5" height="5.5" fill="#BFFF40"/>
<rect x="109.25" y="343.15" width="5.5" height="5.5" fill="#0000DD"/>
<text transform="translate(283.90,211.15) scale(1,1.17)" font-size="8.1" text-anchor="middle" font-weight="bold" fill="#111">Potential Temperature 15 Km</text>
<line x1="211.40" y1="362.15" x2="237.80" y2="238.50" stroke="#111" stroke-width="1" stroke-dasharray="1.2 1.55"/>
<line x1="211.40" y1="362.15" x2="264.20" y2="246.49" stroke="#111" stroke-width="1" stroke-dasharray="1.2 1.55"/>
<line x1="211.40" y1="362.15" x2="290.60" y2="261.19" stroke="#111" stroke-width="1" stroke-dasharray="1.2 1.55"/>
<line x1="211.40" y1="362.15" x2="317.00" y2="286.43" stroke="#111" stroke-width="1" stroke-dasharray="1.2 1.55"/>
<line x1="211.40" y1="362.15" x2="330.20" y2="307.14" stroke="#111" stroke-width="1" stroke-dasharray="1.2 1.55"/>
<path d="M211.40,235.95 L211.40,362.15 L343.40,362.15" fill="none" stroke="#222" stroke-width="1"/>
<line x1="211.40" y1="362.15" x2="211.40" y2="366.05" stroke="#222" stroke-width="1"/>
<line x1="211.40" y1="362.15" x2="207.50" y2="362.15" stroke="#222" stroke-width="1"/>
<text transform="translate(211.10,377.05) scale(1,1.3)" font-size="6.6" text-anchor="middle" fill="#1a1a1a" stroke="#1a1a1a" stroke-width="0.05">0.0</text>
<text transform="translate(202.10,362.15) rotate(-90) scale(1,0.9)" font-size="6.6" text-anchor="middle" fill="#1a1a1a" stroke="#1a1a1a" stroke-width="0.05">0.0</text>
<line x1="240.73" y1="362.15" x2="240.73" y2="366.05" stroke="#222" stroke-width="1"/>
<line x1="211.40" y1="334.11" x2="207.50" y2="334.11" stroke="#222" stroke-width="1"/>
<text transform="translate(240.43,377.05) scale(1,1.3)" font-size="6.6" text-anchor="middle" fill="#1a1a1a" stroke="#1a1a1a" stroke-width="0.05">0.5</text>
<text transform="translate(202.10,334.11) rotate(-90) scale(1,0.9)" font-size="6.6" text-anchor="middle" fill="#1a1a1a" stroke="#1a1a1a" stroke-width="0.05">0.5</text>
<line x1="270.07" y1="362.15" x2="270.07" y2="366.05" stroke="#222" stroke-width="1"/>
<line x1="211.40" y1="306.06" x2="207.50" y2="306.06" stroke="#222" stroke-width="1"/>
<text transform="translate(269.77,377.05) scale(1,1.3)" font-size="6.6" text-anchor="middle" fill="#1a1a1a" stroke="#1a1a1a" stroke-width="0.05">1.0</text>
<text transform="translate(202.10,306.06) rotate(-90) scale(1,0.9)" font-size="6.6" text-anchor="middle" fill="#1a1a1a" stroke="#1a1a1a" stroke-width="0.05">1.0</text>
<line x1="299.40" y1="362.15" x2="299.40" y2="366.05" stroke="#222" stroke-width="1"/>
<line x1="211.40" y1="278.02" x2="207.50" y2="278.02" stroke="#222" stroke-width="1"/>
<text transform="translate(299.10,377.05) scale(1,1.3)" font-size="6.6" text-anchor="middle" fill="#1a1a1a" stroke="#1a1a1a" stroke-width="0.05">1.5</text>
<text transform="translate(202.10,278.02) rotate(-90) scale(1,0.9)" font-size="6.6" text-anchor="middle" fill="#1a1a1a" stroke="#1a1a1a" stroke-width="0.05">1.5</text>
<line x1="328.73" y1="362.15" x2="328.73" y2="366.05" stroke="#222" stroke-width="1"/>
<line x1="211.40" y1="249.97" x2="207.50" y2="249.97" stroke="#222" stroke-width="1"/>
<text transform="translate(328.43,377.05) scale(1,1.3)" font-size="6.6" text-anchor="middle" fill="#1a1a1a" stroke="#1a1a1a" stroke-width="0.05">2.0</text>
<text transform="translate(202.10,249.97) rotate(-90) scale(1,0.9)" font-size="6.6" text-anchor="middle" fill="#1a1a1a" stroke="#1a1a1a" stroke-width="0.05">2.0</text>
<path d="M328.73,362.15 L328.71,360.47 L328.63,358.79 L328.50,357.11 L328.31,355.44 L328.07,353.77 L327.79,352.11 L327.44,350.46 L327.05,348.82 L326.61,347.19 L326.11,345.57 L325.57,343.97 L324.97,342.39 L324.33,340.83 L323.63,339.28 L322.89,337.75 L322.10,336.25 L321.27,334.77 L320.39,333.31 L319.46,331.88 L318.49,330.48 L317.47,329.11 L316.41,327.76 L315.31,326.45 L314.17,325.17 L312.99,323.92 L311.77,322.70 L310.52,321.53 L309.22,320.38 L307.90,319.28 L306.53,318.21 L305.14,317.19 L303.71,316.20 L302.26,315.26 L300.77,314.36 L299.26,313.50 L297.72,312.68 L296.15,311.91 L294.57,311.19 L292.96,310.51 L291.32,309.87 L289.68,309.29 L288.01,308.75 L286.32,308.26 L284.63,307.82 L282.92,307.42 L281.19,307.08 L279.46,306.78 L277.72,306.54 L275.97,306.35 L274.22,306.20 L272.46,306.11 L270.70,306.06 L268.94,306.07 L267.18,306.13 L265.42,306.24 L263.67,306.40 L261.93,306.60 L260.19,306.86 L258.46,307.17 L256.74,307.53 L255.03,307.93 L253.34,308.39 L251.66,308.89 L249.99,309.45 L248.35,310.05 L246.72,310.69 L245.12,311.38 L243.54,312.12 L241.98,312.91 L240.45,313.73 L238.94,314.60 L237.47,315.52 L236.02,316.47 L234.60,317.47 L233.21,318.51 L231.86,319.59 L230.54,320.70 L229.26,321.85 L228.01,323.04 L226.81,324.26 L225.64,325.52 L224.51,326.81 L223.42,328.13 L222.37,329.49 L221.37,330.87 L220.41,332.28 L219.50,333.72 L218.63,335.18 L217.80,336.67 L217.03,338.18 L216.30,339.71 L215.62,341.26 L214.99,342.83 L214.41,344.42 L213.88,346.03 L213.40,347.64 L212.97,349.28 L212.59,350.92 L212.26,352.57 L211.99,354.23 L211.76,355.90 L211.60,357.58 L211.48,359.26 L211.41,360.94" fill="none" stroke="#BEBEBE" stroke-width="1"/>
<path d="M271.33,249.98 L267.81,249.99 L264.30,250.11 L260.78,250.32 L257.28,250.64 L253.79,251.06 L250.31,251.57 L246.85,252.19 L243.41,252.91 L239.99,253.72 L236.60,254.63 L233.25,255.64 L229.92,256.74 L226.63,257.94 L223.38,259.23 L220.17,260.62 L217.01,262.10 L213.90,263.66" fill="none" stroke="#BEBEBE" stroke-width="1"/>
<rect x="281.53" y="303.92" width="6.20" height="7.8" fill="#fff"/>
<text transform="translate(284.63,311.52) scale(1,1.05)" font-size="10" text-anchor="middle" fill="#1a1a1a" stroke="#1a1a1a" stroke-width="0.05">1</text>
<rect x="210.80" y="259.76" width="6.20" height="7.8" fill="#fff"/>
<text transform="translate(213.90,267.36) scale(1,1.05)" font-size="10" text-anchor="middle" fill="#1a1a1a" stroke="#1a1a1a" stroke-width="0.05">2</text>
<path d="M343.40,362.15 L343.35,358.85 L343.22,355.55 L342.99,352.25 L342.68,348.96 L342.27,345.68 L341.77,342.41 L341.19,339.15 L340.52,335.91 L339.75,332.69 L338.90,329.49 L337.96,326.31 L336.94,323.15 L335.83,320.02 L334.63,316.92 L333.35,313.86 L331.99,310.82 L330.54,307.82 L329.01,304.86 L327.40,301.93 L325.72,299.05 L323.95,296.21 L322.10,293.42 L320.18,290.67 L318.19,287.97 L316.12,285.32 L313.98,282.73 L311.77,280.19 L309.50,277.71 L307.15,275.28 L304.74,272.91 L302.26,270.61 L299.73,268.37 L297.13,266.19 L294.47,264.07 L291.76,262.03 L288.99,260.05 L286.17,258.15 L283.29,256.31 L280.37,254.55 L277.40,252.86 L274.38,251.24 L271.33,249.70 L268.23,248.24 L265.09,246.86 L261.91,245.56 L258.70,244.33 L255.46,243.19 L252.19,242.13 L248.89,241.15 L245.56,240.25 L242.21,239.44 L238.84,238.71 L235.46,238.06 L232.05,237.50 L228.63,237.03 L225.20,236.64 L221.76,236.34 L218.31,236.12 L214.86,235.99 L211.40,235.95" fill="none" stroke="#111" stroke-width="1"/>
<line x1="224.60" y1="236.58" x2="224.20" y2="240.35" stroke="#111" stroke-width="1"/>
<line x1="237.80" y1="238.50" x2="237.01" y2="242.21" stroke="#111" stroke-width="1"/>
<line x1="251.00" y1="241.76" x2="249.81" y2="245.37" stroke="#111" stroke-width="1"/>
<line x1="264.20" y1="246.49" x2="262.62" y2="249.96" stroke="#111" stroke-width="1"/>
<line x1="277.40" y1="252.86" x2="275.42" y2="256.14" stroke="#111" stroke-width="1"/>
<line x1="290.60" y1="261.19" x2="288.22" y2="264.22" stroke="#111" stroke-width="1"/>
<line x1="303.80" y1="272.03" x2="301.03" y2="274.73" stroke="#111" stroke-width="1"/>
<line x1="317.00" y1="286.43" x2="313.83" y2="288.70" stroke="#111" stroke-width="1"/>
<line x1="330.20" y1="307.14" x2="326.64" y2="308.79" stroke="#111" stroke-width="1"/>
<line x1="218.00" y1="236.11" x2="217.87" y2="238.63" stroke="#111" stroke-width="1"/>
<line x1="231.20" y1="237.38" x2="230.80" y2="239.87" stroke="#111" stroke-width="1"/>
<line x1="244.40" y1="239.96" x2="243.74" y2="242.40" stroke="#111" stroke-width="1"/>
<line x1="257.60" y1="243.93" x2="256.68" y2="246.30" stroke="#111" stroke-width="1"/>
<line x1="270.80" y1="249.45" x2="269.61" y2="251.70" stroke="#111" stroke-width="1"/>
<line x1="284.00" y1="256.75" x2="282.55" y2="258.86" stroke="#111" stroke-width="1"/>
<line x1="297.20" y1="266.25" x2="295.48" y2="268.16" stroke="#111" stroke-width="1"/>
<line x1="310.40" y1="278.68" x2="308.42" y2="280.35" stroke="#111" stroke-width="1"/>
<line x1="323.60" y1="295.67" x2="321.36" y2="297.00" stroke="#111" stroke-width="1"/>
<line x1="336.80" y1="322.74" x2="334.29" y2="323.53" stroke="#111" stroke-width="1"/>
<line x1="331.52" y1="309.83" x2="330.32" y2="310.35" stroke="#111" stroke-width="1"/>
<line x1="332.84" y1="312.69" x2="331.63" y2="313.18" stroke="#111" stroke-width="1"/>
<line x1="334.16" y1="315.76" x2="332.93" y2="316.23" stroke="#111" stroke-width="1"/>
<line x1="335.48" y1="319.09" x2="334.24" y2="319.52" stroke="#111" stroke-width="1"/>
<line x1="336.80" y1="322.74" x2="335.55" y2="323.14" stroke="#111" stroke-width="1"/>
<line x1="338.12" y1="326.81" x2="336.85" y2="327.17" stroke="#111" stroke-width="1"/>
<line x1="339.44" y1="331.47" x2="338.16" y2="331.78" stroke="#111" stroke-width="1"/>
<line x1="340.76" y1="337.04" x2="339.47" y2="337.29" stroke="#111" stroke-width="1"/>
<line x1="342.08" y1="344.35" x2="340.77" y2="344.53" stroke="#111" stroke-width="1"/>
<text transform="translate(225.26,233.70) scale(1,1.3)" font-size="6.6" text-anchor="middle" fill="#1a1a1a" stroke="#1a1a1a" stroke-width="0.05">0.1</text>
<text transform="translate(239.12,235.72) scale(1,1.3)" font-size="6.6" text-anchor="middle" fill="#1a1a1a" stroke="#1a1a1a" stroke-width="0.05">0.2</text>
<text transform="translate(252.98,239.14) scale(1,1.3)" font-size="6.6" text-anchor="middle" fill="#1a1a1a" stroke="#1a1a1a" stroke-width="0.05">0.3</text>
<text transform="translate(266.84,244.10) scale(1,1.3)" font-size="6.6" text-anchor="middle" fill="#1a1a1a" stroke="#1a1a1a" stroke-width="0.05">0.4</text>
<text transform="translate(280.70,250.79) scale(1,1.3)" font-size="6.6" text-anchor="middle" fill="#1a1a1a" stroke="#1a1a1a" stroke-width="0.05">0.5</text>
<text transform="translate(294.56,259.54) scale(1,1.3)" font-size="6.6" text-anchor="middle" fill="#1a1a1a" stroke="#1a1a1a" stroke-width="0.05">0.6</text>
<text transform="translate(308.42,270.92) scale(1,1.3)" font-size="6.6" text-anchor="middle" fill="#1a1a1a" stroke="#1a1a1a" stroke-width="0.05">0.7</text>
<text transform="translate(322.28,286.04) scale(1,1.3)" font-size="6.6" text-anchor="middle" fill="#1a1a1a" stroke="#1a1a1a" stroke-width="0.05">0.8</text>
<text transform="translate(336.14,307.79) scale(1,1.3)" font-size="6.6" text-anchor="middle" fill="#1a1a1a" stroke="#1a1a1a" stroke-width="0.05">0.9</text>
<text transform="translate(343.07,324.17) scale(1,1.3)" font-size="6.6" text-anchor="middle" fill="#1a1a1a" stroke="#1a1a1a" stroke-width="0.05">0.95</text>
<text transform="translate(348.61,346.86) scale(1,1.3)" font-size="6.6" text-anchor="middle" fill="#1a1a1a" stroke="#1a1a1a" stroke-width="0.05">0.99</text>
<text transform="translate(317.00,261.19) rotate(45) scale(1,1.12)" x="0" y="3.1" font-size="6.75" text-anchor="middle" fill="#111" stroke="#111" stroke-width="0.15">Correlation</text>
<text transform="translate(338.40,243.05) scale(1,0.92)" font-size="7.3" text-anchor="middle" fill="#1a1a1a" stroke="#1a1a1a" stroke-width="0.05">(d)</text>
<text transform="translate(283.60,386.05) scale(1,1.17)" font-size="9.5" text-anchor="middle" fill="#1a1a1a" stroke="#1a1a1a" stroke-width="0.05">Standard deviation</text>
<circle cx="270.07" cy="362.45" r="2.6" fill="none" stroke="#222" stroke-width="0.9"/>
<rect x="286.75" y="337.35" width="5.5" height="5.5" fill="#0000DD"/>
<rect x="292.45" y="332.55" width="5.5" height="5.5" fill="#BFFF40"/>
<rect x="297.95" y="337.35" width="5.5" height="5.5" fill="#FF9900"/>
<rect x="292.05" y="336.75" width="5.5" height="5.5" fill="#FF77CC"/>
<rect x="291.15" y="340.15" width="5.5" height="5.5" fill="#9933DD"/>
<rect x="301.75" y="343.35" width="5.5" height="5.5" fill="#228B22"/>
<polygon points="261.00,345.57 264.23,352.10 257.77,352.10" fill="none" stroke="#FF9900" stroke-width="0.85"/><polygon points="261.00,353.03 264.23,346.50 257.77,346.50" fill="none" stroke="#FF9900" stroke-width="0.85"/>
<polygon points="263.20,347.92 266.30,354.18 260.10,354.18" fill="none" stroke="#F5A040" stroke-width="0.85"/><polygon points="263.20,355.08 266.30,348.82 260.10,348.82" fill="none" stroke="#F5A040" stroke-width="0.85"/>
<polygon points="264.00,346.35 266.56,351.52 261.44,351.52" fill="none" stroke="#FF88BB" stroke-width="0.7"/><polygon points="264.00,352.25 266.56,347.08 261.44,347.08" fill="none" stroke="#FF88BB" stroke-width="0.7"/>
<polygon points="262.60,348.98 264.35,352.52 260.85,352.52" fill="none" stroke="#8855DD" stroke-width="0.6"/><polygon points="262.60,353.02 264.35,349.48 260.85,349.48" fill="none" stroke="#8855DD" stroke-width="0.6"/>
<polygon points="269.30,346.17 271.32,350.25 267.28,350.25" fill="none" stroke="#BFFF40" stroke-width="0.7"/><polygon points="269.30,350.83 271.32,346.75 267.28,346.75" fill="none" stroke="#BFFF40" stroke-width="0.7"/>
<circle cx="263.80" cy="358.50" r="2.7" fill="#888888"/>
<rect x="266.20" y="354.20" width="3.2" height="3.2" fill="#FF77CC"/>
<circle cx="270.00" cy="358.00" r="2.4" fill="#9933DD"/>
<circle cx="276.80" cy="351.50" r="2.5" fill="#BFFF40"/>
<circle cx="274.80" cy="353.00" r="2.9" fill="#228B22"/>
<circle cx="271.10" cy="352.70" r="2.8" fill="#FFD700"/>
<rect x="404.5" y="123.5" width="76.5" height="138" fill="#fff" stroke="#333" stroke-width="1"/>
<text transform="translate(442.40,135.10) scale(1,1.1)" font-size="10" text-anchor="middle" fill="#111" stroke="#111" stroke-width="0.05">Dates</text>
<rect x="413" y="144.10" width="6.5" height="5.5" fill="#BFFF40" stroke="#333" stroke-width="0.8"/>
<text transform="translate(428.30,151.70) scale(1,1.12)" font-size="9.55" text-anchor="start" fill="#111" stroke="#111" stroke-width="0.05">06/08/2021</text>
<rect x="413" y="155.52" width="6.5" height="5.5" fill="#0000DD" stroke="#333" stroke-width="0.8"/>
<text transform="translate(428.30,163.12) scale(1,1.12)" font-size="9.55" text-anchor="start" fill="#111" stroke="#111" stroke-width="0.05">17/09/2021</text>
<rect x="413" y="166.94" width="6.5" height="5.5" fill="#EE0000" stroke="#333" stroke-width="0.8"/>
<text transform="translate(428.30,174.54) scale(1,1.12)" font-size="9.55" text-anchor="start" fill="#111" stroke="#111" stroke-width="0.05">22/10/2021</text>
<rect x="413" y="178.36" width="6.5" height="5.5" fill="#33EEEE" stroke="#333" stroke-width="0.8"/>
<text transform="translate(428.30,185.96) scale(1,1.12)" font-size="9.55" text-anchor="start" fill="#111" stroke="#111" stroke-width="0.05">29/10/2021</text>
<rect x="413" y="189.78" width="6.5" height="5.5" fill="#FF9900" stroke="#333" stroke-width="0.8"/>
<text transform="translate(428.30,197.38) scale(1,1.12)" font-size="9.55" text-anchor="start" fill="#111" stroke="#111" stroke-width="0.05">12/11/2021</text>
<rect x="413" y="201.20" width="6.5" height="5.5" fill="#FF77CC" stroke="#333" stroke-width="0.8"/>
<text transform="translate(428.30,208.80) scale(1,1.12)" font-size="9.55" text-anchor="start" fill="#111" stroke="#111" stroke-width="0.05">19/11/2021</text>
<rect x="413" y="212.62" width="6.5" height="5.5" fill="#9933DD" stroke="#333" stroke-width="0.8"/>
<text transform="translate(428.30,220.22) scale(1,1.12)" font-size="9.55" text-anchor="start" fill="#111" stroke="#111" stroke-width="0.05">26/11/2021</text>
<rect x="413" y="224.04" width="6.5" height="5.5" fill="#228B22" stroke="#333" stroke-width="0.8"/>
<text transform="translate(428.30,231.64) scale(1,1.12)" font-size="9.55" text-anchor="start" fill="#111" stroke="#111" stroke-width="0.05">10/12/2021</text>
<rect x="413" y="235.46" width="6.5" height="5.5" fill="#FFD700" stroke="#333" stroke-width="0.8"/>
<text transform="translate(428.30,243.06) scale(1,1.12)" font-size="9.55" text-anchor="start" fill="#111" stroke="#111" stroke-width="0.05">17/12/2021</text>
<rect x="413" y="246.88" width="6.5" height="5.5" fill="#888888" stroke="#333" stroke-width="0.8"/>
<text transform="translate(428.30,254.48) scale(1,1.12)" font-size="9.55" text-anchor="start" fill="#111" stroke="#111" stroke-width="0.05">21/01/2022</text>
<rect x="494.5" y="169.5" width="52" height="46" fill="#fff" stroke="#333" stroke-width="1"/>
<circle cx="503.2" cy="181.1" r="2.1" fill="#111"/>
<rect x="501.2" y="190.3" width="3.9" height="3.9" fill="#111"/>
<polygon points="503.10,200.79 505.79,206.23 500.41,206.23" fill="none" stroke="#111" stroke-width="0.8"/><polygon points="503.10,207.01 505.79,201.57 500.41,201.57" fill="none" stroke="#111" stroke-width="0.8"/>
<text transform="translate(511.20,185.50) scale(1,1.12)" font-size="9.6" text-anchor="start" fill="#111" stroke="#111" stroke-width="0.05">WRF</text>
<text transform="translate(511.20,196.60) scale(1,1.12)" font-size="9.6" text-anchor="start" fill="#111" stroke="#111" stroke-width="0.05">MODIS</text>
<text transform="translate(511.20,207.70) scale(1,1.12)" font-size="9.6" text-anchor="start" fill="#111" stroke="#111" stroke-width="0.05">AIRS</text>
</g></svg></body></html>
